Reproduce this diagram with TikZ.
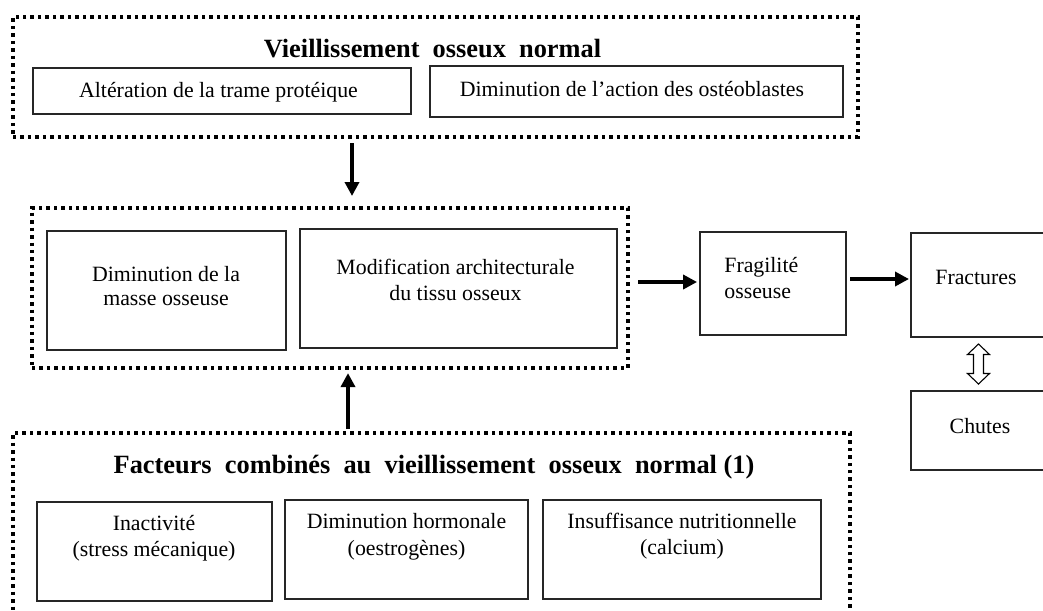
\documentclass[tikz,border=0pt]{standalone}
\usepackage{fontspec}
\setmainfont{Liberation Serif}
\usetikzlibrary{arrows.meta,fit,calc}
\begin{document}
\begin{tikzpicture}[x=0.55pt, y=-0.55pt,
  box/.style={draw=black!85, line width=0.6pt, inner sep=0pt, outer sep=0pt},
  group/.style={draw=black, line width=1.9pt, dash pattern=on 1.9pt off 2.2pt, inner sep=0pt, outer sep=0pt},
  txt/.style={inner sep=0pt, align=center, font=\fontsize{12pt}{14.4pt}\selectfont},
  ttl/.style={inner sep=0pt, font=\fontsize{14.5pt}{17pt}\selectfont\bfseries},
  flow/.style={line width=2.2pt, -{Triangle[length=7.7pt,width=7.7pt]}},
  swapshape/.style={draw=black, line width=0.6pt, fill=white, line join=miter}
]
\useasboundingbox (0,0) rectangle (1043,610);

% normal bone ageing
\node[group, fit={(13,17) (858,137)}] (topg) {};
\node[box, fit={(33,68) (411,114)}] (alt) {};
\node[box, fit={(430,66) (843,117)}] (act) {};
\node[ttl, anchor=base] (t1) at (432.5,57) {Vieillissement\ \ osseux\ \ normal};
\node[txt, anchor=base] (altt) at (218.5,97) {Altération de la trame protéique};
\node[txt, anchor=base] (actt) at (632,96) {Diminution de l’action des ostéoblastes};

% bone changes (multi-line texts are placed by the baseline of their last line)
\node[group, fit={(32,208) (628,368)}] (midg) {};
\node[box, fit={(47,231) (286,350)}] (masse) {};
\node[box, fit={(300,229) (617,348)}] (modif) {};
\node[txt, anchor=base] (masset) at (166,305.5) {Diminution de la\\[-1pt]masse osseuse};
\node[txt, anchor=base] (modift) at (455.5,300.5) {Modification architecturale\\du tissu osseux};

% consequences
\node[box, fit={(700,232) (846,335)}] (frag) {};
\node[box, fit={(911,233) (1046,337)}] (fract) {};
\node[box, fit={(911,391) (1046,470)}] (chutes) {};
\node[txt, align=left, anchor=base west] (fragt) at (724,298.5) {Fragilité\\osseuse};
\node[txt, anchor=base west] (fractt) at (935,284) {Fractures};
\node[txt, anchor=base] (chutest) at (980,433) {Chutes};

% combined factors
\node[group, fit={(13,433) (850,613)}] (botg) {};
\node[box, fit={(37,502) (272,601)}] (inact) {};
\node[box, fit={(285,500) (528,599)}] (horm) {};
\node[box, fit={(543,500) (821,599)}] (nutri) {};
\node[ttl, anchor=base] (t2) at (434,473) {Facteurs\ \ combinés\ \ au\ \ vieillissement\ \ osseux\ \ normal (1)};
\node[txt, anchor=base] (inactt) at (154,556.5) {Inactivité\\(stress mécanique)};
\node[txt, anchor=base] (hormt) at (406.5,555) {Diminution hormonale\\(oestrogènes)};
\node[txt, anchor=base] (nutrit) at (682,554.5) {Insuffisance nutritionnelle\\(calcium)};

% arrows
\coordinate (ax) at (352,0);
\coordinate (bx) at (348,0);
\coordinate (ay) at (0,282);
\coordinate (by) at (0,279);
\draw[flow, shorten <=3.3pt, shorten >=6.6pt] (topg.south -| ax) -- (midg.north -| ax);
\draw[flow, shorten <=2.2pt, shorten >=2.8pt] (botg.north -| bx) -- (midg.south -| bx);
\draw[flow, shorten <=5.5pt, shorten >=1.6pt] (midg.east |- ay) -- (frag.west |- ay);
\draw[flow, shorten <=2.2pt, shorten >=1.1pt] (frag.east |- by) -- (fract.west |- by);

% two-way link between fractures and falls
\coordinate (dm) at ($(fract.south)!0.5!(chutes.north)$);
\draw[swapshape] ($(dm)+(0,-20)$) -- ++(11,10.5) -- ++(-6,0) -- ++(0,19) -- ++(6,0)
  -- ++(-11,10.5) -- ++(-11,-10.5) -- ++(6,0) -- ++(0,-19) -- ++(-6,0) -- cycle;
\end{tikzpicture}
\end{document}
